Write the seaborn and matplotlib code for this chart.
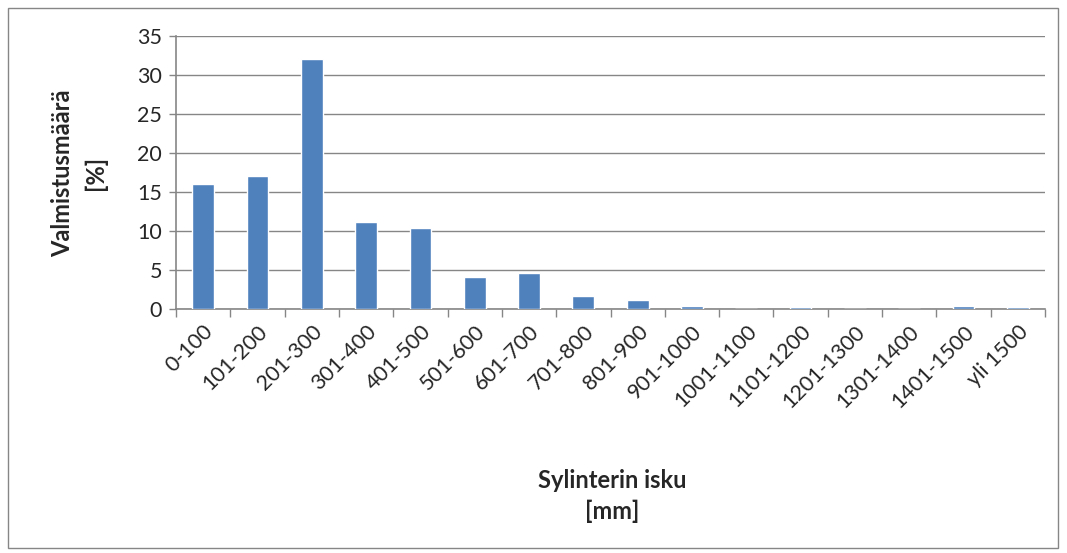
import matplotlib
matplotlib.use("Agg")
import matplotlib.pyplot as plt
from matplotlib.patches import Rectangle
import seaborn as sns
import pandas as pd

categories = ["0-100", "101-200", "201-300", "301-400", "401-500", "501-600",
              "601-700", "701-800", "801-900", "901-1000", "1001-1100",
              "1101-1200", "1201-1300", "1301-1400", "1401-1500", "yli 1500"]
values = [16.0, 17.0, 32.0, 11.2, 10.4, 4.1, 4.6, 1.7, 1.1, 0.4, 0.0,
          0.2, 0.0, 0.0, 0.35, 0.3]
y_ticks = [0, 5, 10, 15, 20, 25, 30, 35]

df = pd.DataFrame({"isku": categories, "osuus": values})

sns.set_style("white")
plt.rcParams["font.family"] = ["Lato", "DejaVu Sans"]

W, H = 1067, 553
fig = plt.figure(figsize=(W / 100, H / 100), dpi=100)
ax = fig.add_axes([176 / W, 1 - 309 / H, (1045 - 176) / W, (309 - 36) / H])

sns.barplot(data=df, x="isku", y="osuus", color="#4F81BD", width=0.4,
            saturation=1, ax=ax, zorder=3)

grid_c = "#868686"
ax.set_ylim(0, 35)
ax.set_xlim(-0.5, len(categories) - 0.5)
ax.set_yticks(y_ticks)
ax.set_yticklabels([str(t) for t in y_ticks], fontsize=15.5)
ax.yaxis.grid(True, color=grid_c, linewidth=1, zorder=0)
ax.set_axisbelow(True)

ax.set_xticks(range(len(categories)))
ax.set_xticklabels(categories, rotation=45, ha="right", rotation_mode="anchor",
                   fontsize=15.5)
ax.tick_params(axis="x", which="major", bottom=False, length=0, pad=9)
ax.set_xticks([i - 0.5 for i in range(len(categories) + 1)], minor=True)
ax.tick_params(axis="x", which="minor", bottom=True, length=6, width=1,
               color=grid_c, direction="out")
ax.tick_params(axis="y", left=True, length=5, width=1, color=grid_c,
               direction="out", pad=5)

for side in ["top", "right"]:
    ax.spines[side].set_visible(False)
for side in ["left", "bottom"]:
    ax.spines[side].set_color(grid_c)
    ax.spines[side].set_linewidth(1.2)

ax.set_xlabel("")
ax.set_ylabel("")
label_kw = dict(ha="center", va="center", fontsize=17, fontweight="bold")
fig.text(612 / W, 1 - 481 / H, "Sylinterin isku", **label_kw)
fig.text(612 / W, 1 - 511 / H, "[mm]", **label_kw)
fig.text(63 / W, 1 - 173 / H, "Valmistusmäärä", rotation=90, **label_kw)
fig.text(95 / W, 1 - 173 / H, "[%]", rotation=90, **label_kw)

fig.patches.append(Rectangle((8 / W, 1 - 548 / H), (1058 - 8) / W, (548 - 8) / H,
                             transform=fig.transFigure, fill=False,
                             edgecolor=grid_c, linewidth=1))

fig.savefig("out.png", dpi=100)
